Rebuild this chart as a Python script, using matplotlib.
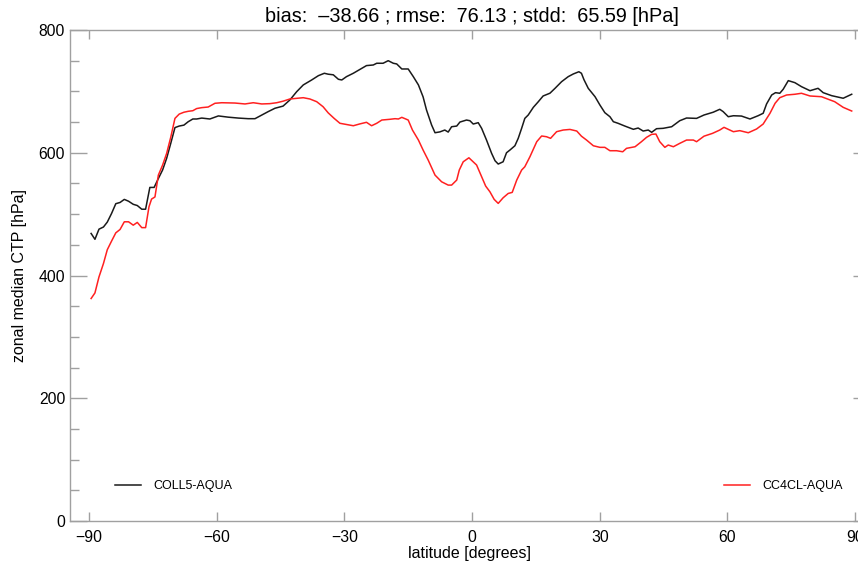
import numpy as np
import matplotlib
matplotlib.use("Agg")
import matplotlib.pyplot as plt
from matplotlib.ticker import MultipleLocator

plt.rcParams['font.family'] = ['Liberation Sans', 'DejaVu Sans']

# zonal median cloud top pressure
lat_coll5 = [-89.5, -88.6, -87.65, -86.6, -85.7, -84.7, -83.7, -82.7, -81.7, -80.7,
             -79.6, -78.65, -77.6, -76.7, -75.7, -74.7, -73.7, -72.7, -71.75, -70.8,
             -69.8, -68.8, -67.7, -66.7, -65.6, -64.7, -63.5, -61.6, -59.6, -57.3,
             -54.9, -52.6, -51.0, -49.4, -47.9, -46.3, -44.4, -42.8, -41.2, -39.65,
             -37.7, -36.1, -34.7, -33.8, -32.6, -31.4, -30.6, -29.5, -27.9, -25.9,
             -24.8, -23.2, -22.4, -20.9, -19.7, -18.5, -17.7, -16.5, -15.0, -13.8,
             -12.6, -11.5, -10.7, -9.5, -8.7, -7.55, -6.4, -5.6, -4.8, -3.6,
             -2.85, -1.3, -0.5, 0.28, 1.45, 2.25, 3.4, 4.6, 5.4, 6.15,
             7.3, 8.1, 8.9, 10.07, 10.85, 11.65, 12.4, 13.2, 14.4, 15.55,
             16.7, 18.3, 19.5, 21.04, 22.6, 23.8, 25.1, 25.7, 26.3, 27.3,
             28.9, 30.04, 31.2, 32.4, 33.2, 34.3, 35.9, 37.9, 39.03, 40.2,
             41.4, 42.2, 43.35, 44.9, 46.9, 48.8, 50.4, 52.75, 54.5, 56.65,
             58.2, 59.0, 60.2, 61.4, 63.3, 65.3, 67.2, 68.4, 69.2, 70.4,
             71.3, 72.3, 73.1, 74.3, 75.85, 77.4, 79.4, 81.3, 82.5, 84.5,
             87.2, 89.2]
ctp_coll5 = [468.5, 459, 475.5, 479, 487, 501, 517, 519, 524, 521,
             516, 514, 508, 508, 543.5, 543.5, 558, 572, 591, 615,
             641, 643.5, 645, 650.5, 655, 655, 656.5, 655, 660, 658,
             656.5, 655.5, 655.5, 661.5, 667, 672.5, 676, 686, 699.5, 710.5,
             718.5, 725.6, 729.5, 728, 727, 719.7, 718.6, 724, 729.5, 737.6,
             742, 743, 745.8, 745.8, 750, 745.8, 744.7, 736.5, 736.5, 724,
             710.5, 691, 669.7, 645.2, 632.6, 634, 637, 633.7, 642.4, 643.5,
             650, 653.3, 652.2, 646.8, 649, 639.8, 620.7, 599, 587, 581.6,
             585.3, 600, 604.4, 611.4, 623.5, 639.8, 656, 661.5, 674, 683,
             692.5, 697, 705, 715.8, 724, 728.4, 732, 729.5, 719, 705,
             691.3, 677.8, 665.3, 658.7, 650.6, 648, 643.5, 638.2, 640.3, 635.4,
             637, 633.3, 639.2, 639.8, 642.4, 652.2, 656.6, 656, 661.5, 666,
             670.8, 667, 658.7, 660.3, 659.8, 655, 660.3, 664.3, 679.5, 694.1,
             697.9, 696.9, 703.4, 717.5, 714.2, 707.7, 701.1, 705, 697.9, 693,
             688.8, 695.3]

lat_cc4cl = [-89.5, -88.6, -87.65, -86.6, -85.7, -84.7, -83.7, -82.7, -81.7, -80.7,
             -79.6, -78.65, -77.6, -76.7, -75.9, -75.3, -74.5, -73.7, -72.7, -71.75,
             -70.8, -69.8, -68.8, -67.7, -66.7, -65.6, -64.7, -63.5, -62.0, -60.4,
             -58.8, -55.7, -53.35, -51.4, -49.4, -47.5, -45.9, -44.4, -42.8, -41.2,
             -39.65, -38.1, -36.5, -35.0, -33.8, -32.4, -31.04, -29.5, -27.9, -26.35,
             -24.8, -23.6, -22.4, -21.2, -19.3, -18.1, -17.3, -16.5, -15.0, -14.0,
             -12.6, -11.5, -10.3, -8.7, -7.15, -5.6, -4.8, -3.6, -3.0, -2.07,
             -0.74, 1.07, 2.25, 3.2, 4.2, 5.2, 6.15, 7.3, 8.5, 9.44,
             10.5, 11.65, 12.4, 13.6, 15.2, 16.35, 17.5, 18.45, 19.87, 21.4,
             23.0, 24.6, 25.7, 26.9, 28.5, 30.04, 31.2, 32.4, 33.96, 35.4,
             36.3, 38.3, 39.8, 41.0, 42.2, 43.2, 44.1, 45.3, 46.1, 47.3,
             48.8, 50.4, 52.0, 52.75, 54.5, 56.5, 58.2, 59.2, 61.4, 62.9,
             64.9, 66.85, 68.4, 70.0, 71.2, 72.3, 73.9, 75.85, 77.4, 79.4,
             82.1, 83.7, 85.2, 87.2, 89.2]
ctp_cc4cl = [362.5, 371.6, 397.7, 419.5, 442, 456, 469.5, 475, 487.5, 487.5,
             482, 486.5, 478, 478, 512, 524.5, 528, 563.6, 580, 599,
             625, 656, 663, 666, 667.5, 668.5, 672, 673.5, 674.5, 680.6,
             681.5, 681, 679.5, 681.5, 679.5, 680, 681.5, 684, 687.6, 688.7,
             689.7, 687.6, 683.2, 675, 665, 656, 648, 646, 644, 647,
             649.6, 644, 648, 653.3, 654.5, 655.5, 655, 657.7, 653.3, 637,
             620.7, 604.4, 588, 563.6, 552.7, 547.3, 547.3, 555.5, 571.8, 585.3,
             591.8, 580, 560.9, 545.7, 536.4, 524, 517.5, 526.6, 533.7, 535.4,
             555.5, 571.8, 577.2, 593.5, 618, 627.3, 626.1, 623.5, 634.3, 637,
             638, 635.4, 627, 620.7, 611.4, 608.8, 608.8, 603.3, 603.3, 601.6,
             607.2, 609.8, 618, 625.1, 630, 630.5, 618, 608.8, 612.6, 609.8,
             615.3, 620.7, 620.7, 618, 627, 631.6, 637, 641.4, 634.3, 636,
             632.6, 638.7, 646.8, 664.3, 680.6, 689.7, 694.1, 695.3, 696.9, 692.5,
             691.3, 687.1, 683.2, 674, 668]

title = 'bias:  \u201338.66 ; rmse:  76.13 ; stdd:  65.59 [hPa]'

fig = plt.figure(figsize=(8.58, 5.64), dpi=100)
ax = fig.add_axes([70 / 858, 43 / 564, 800 / 858, 491 / 564])

l1, = ax.plot(lat_coll5, ctp_coll5, color='#1a1a1a', lw=1.1)
l2, = ax.plot(lat_cc4cl, ctp_cc4cl, color='#ff2020', lw=1.1)

ax.set_xlim(-94.46, 93.5)
ax.set_ylim(0, 800)
ax.set_xticks([-90, -60, -30, 0, 30, 60, 90])
ax.set_yticks([0, 200, 400, 600, 800])
ax.yaxis.set_minor_locator(MultipleLocator(50))

grey = '#a0a0a0'
for s in ax.spines.values():
    s.set_color(grey)
    s.set_linewidth(1.0)
ax.tick_params(axis='x', which='major', direction='in', length=6.5, width=1.0,
               color=grey, top=True, labelsize=11.3, pad=6.5)
ax.tick_params(axis='y', which='major', direction='in', length=12.2, width=1.0,
               color=grey, right=True, labelsize=11.3, pad=3.5)
ax.tick_params(axis='y', which='minor', direction='in', length=6.5, width=1.0,
               color=grey, right=True)

ax.set_xlabel('latitude [degrees]', fontsize=11.5, labelpad=0.5)
ax.set_ylabel('zonal median CTP [hPa]', fontsize=11.5, labelpad=8)
fig.text(472 / 858, 1 - 17 / 564, title, fontsize=14.3, ha='center', va='center')

leg_kw = dict(loc='center left', bbox_transform=fig.transFigure, frameon=False,
              fontsize=9, handlelength=2.1, handletextpad=1.0,
              borderpad=0, borderaxespad=0)
leg1 = ax.legend([l1], ['COLL5-AQUA'], bbox_to_anchor=(115 / 858, 1 - 486 / 564), **leg_kw)
ax.add_artist(leg1)
ax.legend([l2], ['CC4CL-AQUA'], bbox_to_anchor=(724 / 858, 1 - 486 / 564), **leg_kw)

fig.savefig('out.png', dpi=100)
